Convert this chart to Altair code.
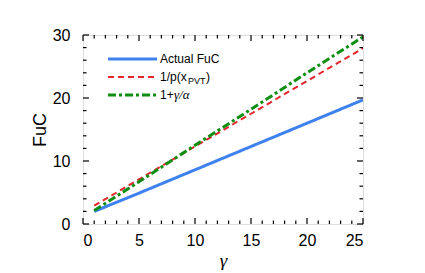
import altair as alt
import pandas as pd

# ---- data ----
gamma = [1, 5, 10, 15, 20, 25]
actual_fuc = [2.0, 4.9, 8.6, 12.3, 16.0, 19.7]
inv_p = [2.9, 7.1, 12.3, 17.5, 22.7, 27.9]
one_plus = [2.15, 6.7, 12.5, 18.2, 24.0, 29.7]

series_names = ["Actual FuC", "1/p(x_PVT)", "1+γ/α"]
series_colors = ["#3d82ee", "#e3262b", "#0f8f12"]
series_widths = [3, 2, 3]
series_dash = [[1, 0], [6, 4], [8, 3, 3, 3]]

x_major = [0, 5, 10, 15, 20, 25]
x_minor = [v for v in range(0, 26) if v % 5 != 0]
y_major = [0, 10, 20, 30]
y_minor = [v for v in range(0, 31, 2) if v % 10 != 0]

W, H = 280, 189
FONT = "Liberation Sans"

rows = []
for name, vals in zip(series_names, [actual_fuc, inv_p, one_plus]):
    for g, v in zip(gamma, vals):
        rows.append({"gamma": g, "value": v, "series": name})
df = pd.DataFrame(rows)

xs = alt.Scale(domain=[0, 25], nice=False, zero=False)
ys = alt.Scale(domain=[0, 30], nice=False, zero=False)

base = alt.Chart(df)
lines = []
for name, col, w, d in zip(series_names, series_colors, series_widths, series_dash):
    lines.append(
        base.transform_filter(alt.datum.series == name)
        .mark_line(color=col, strokeWidth=w, strokeDash=d, clip=True)
        .encode(
            x=alt.X("gamma:Q", scale=xs,
                    axis=alt.Axis(values=x_major, title="γ", domain=False, ticks=False,
                                  labelFontSize=16, labelFont=FONT, labelPadding=8,
                                  labelColor="black", grid=False,
                                  titleFontSize=19, titleFont="Liberation Serif",
                                  titleFontStyle="italic", titleFontWeight="normal",
                                  titlePadding=3, titleColor="black")),
            y=alt.Y("value:Q", scale=ys,
                    axis=alt.Axis(values=y_major, title="FuC", domain=False, ticks=False,
                                  labelFontSize=16, labelFont=FONT, labelPadding=13,
                                  labelColor="black", grid=False,
                                  titleFontSize=18, titleFont=FONT,
                                  titleFontWeight="normal", titlePadding=3,
                                  titleColor="black")),
        )
    )

def xticks(vals, length):
    d = pd.DataFrame({"t": vals})
    c = alt.Chart(d)
    bot = c.mark_rule(color="black", strokeWidth=1.2).encode(
        x=alt.X("t:Q", scale=xs), y=alt.value(H), y2=alt.value(H - length))
    top = c.mark_rule(color="black", strokeWidth=1.2).encode(
        x=alt.X("t:Q", scale=xs), y=alt.value(0), y2=alt.value(length))
    return [bot, top]

def yticks(vals, length):
    d = pd.DataFrame({"t": vals})
    c = alt.Chart(d)
    left = c.mark_rule(color="black", strokeWidth=1.2).encode(
        y=alt.Y("t:Q", scale=ys), x=alt.value(0), x2=alt.value(length))
    right = c.mark_rule(color="black", strokeWidth=1.2).encode(
        y=alt.Y("t:Q", scale=ys), x=alt.value(W), x2=alt.value(W - length))
    return [left, right]

ticks = xticks(x_major, 6) + xticks(x_minor, 3.5) + yticks(y_major, 6) + yticks(y_minor, 3.5)

# ---- manual legend ----
leg_y = [24, 42, 60]
one = pd.DataFrame({"a": [0]})
legend = []
for yy, col, w, d in zip(leg_y, series_colors, series_widths, series_dash):
    legend.append(alt.Chart(one).mark_rule(color=col, strokeWidth=w, strokeDash=d).encode(
        x=alt.value(25), x2=alt.value(74), y=alt.value(yy)))

def txt(s, x, y, size=12, font=FONT, style="normal"):
    return alt.Chart(one).mark_text(text=s, align="left", baseline="middle", fontSize=size,
                                    font=font, fontStyle=style, color="black").encode(
        x=alt.value(x), y=alt.value(y))

legend += [
    txt("Actual FuC", 77, leg_y[0]),
    txt("1/p(x", 77, leg_y[1]),
    txt("PVT", 105, leg_y[1] + 4, size=9),
    txt(")", 123, leg_y[1]),
    txt("1+", 77, leg_y[2]),
    txt("γ/α", 91, leg_y[2], size=13, font="Liberation Serif", style="italic"),
]

chart = alt.layer(*lines, *ticks, *legend).properties(
    width=W, height=H,
    autosize=alt.AutoSizeParams(type="none"),
    padding={"left": 75, "top": 27, "right": 40, "bottom": 46},
).configure_view(stroke="black", strokeWidth=1.6).configure(background="white")

chart.save("out.html", embed_options={"renderer": "svg", "actions": False})
